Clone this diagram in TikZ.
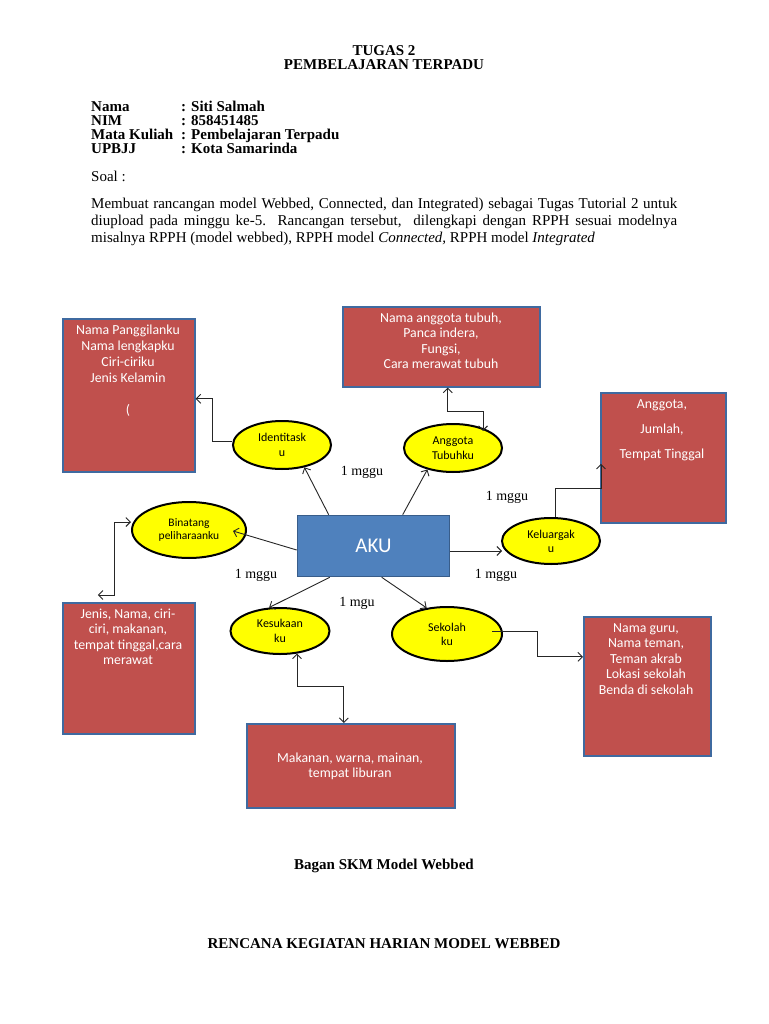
\documentclass[tikz,border=0pt]{standalone}
\usepackage{fontspec}
\setmainfont{Liberation Serif}
\newfontfamily\carl{Carlito}
\usetikzlibrary{shapes.geometric,arrows.meta,calc}
\definecolor{boxred}{HTML}{C0504D}
\definecolor{boxedge}{HTML}{3F6AA0}
\definecolor{akublue}{HTML}{4F81BD}
\definecolor{akuedge}{HTML}{385D8A}
\definecolor{ylw}{HTML}{FFFF00}
\begin{document}
\begin{tikzpicture}[x=1pt,y=-1pt,
  redbox/.style={draw=boxedge, line width=1.6pt, fill=boxred, inner sep=0pt, anchor=north west},
  boxtxt/.style={font=\carl\fontsize{13.8}{15.5}\selectfont, text=white, align=center, inner sep=0pt, anchor=base},
  oval/.style={ellipse, draw=black, line width=2pt, fill=ylw, inner sep=0pt, align=center},
  conn/.style={draw=black!85, line width=0.9pt},
  tip/.style={-{Straight Barb[length=4.5pt,width=9pt]}},
  both/.style={{Straight Barb[length=4.5pt,width=9pt]}-{Straight Barb[length=4.5pt,width=9pt]}},
  lbl/.style={font=\fontsize{14}{16}\selectfont, anchor=base, inner sep=0pt},
  doc/.style={font=\fontsize{15}{17}\selectfont, inner sep=0pt},
  docb/.style={font=\bfseries\fontsize{15}{17}\selectfont, inner sep=0pt},
]
\useasboundingbox (0,0) rectangle (768,1024);
\fill[white] (0,0) rectangle (768,1024);

% header
\node[docb, anchor=base] (t1) at (384,56) {TUGAS 2};
\node[docb, anchor=base] (t2) at (384,70) {PEMBELAJARAN TERPADU};
\node[docb, anchor=base west] (k1) at (91,112) {Nama};
\node[docb, anchor=base west] (v1) at (181,112) {: Siti Salmah};
\node[docb, anchor=base west] (k2) at (91,126) {NIM};
\node[docb, anchor=base west] (v2) at (181,126) {: 858451485};
\node[docb, anchor=base west] (k3) at (91,140) {Mata Kuliah};
\node[docb, anchor=base west] (v3) at (181,140) {: Pembelajaran Terpadu};
\node[docb, anchor=base west] (k4) at (91,154) {UPBJJ};
\node[docb, anchor=base west] (v4) at (181,154) {: Kota Samarinda};
\node[doc, anchor=base west] (soal) at (91,182) {Soal :};
\node[doc, anchor=base west, text width=586pt, align=justify] (para) at (91,209)
 {Membuat rancangan model Webbed, Connected, dan Integrated) sebagai Tugas Tutorial 2 untuk\linebreak
  diupload pada minggu ke-5. Rancangan tersebut,\ \ dilengkapi dengan RPPH sesuai modelnya\linebreak
  misalnya RPPH (model webbed), RPPH model \textit{Connected,} RPPH model \textit{Integrated}};

% central box
\node[draw=akuedge, line width=1.6pt, fill=akublue, minimum width=152, minimum height=61,
      inner sep=0pt, font=\carl\fontsize{21}{24}\selectfont, text=white] (aku) at (373.5,546) {AKU};

% ellipses
\node[oval, minimum width=98, minimum height=48, font=\carl\fontsize{12}{15}\selectfont] (iden) at (282,445) {Identitask\\u};
\node[oval, minimum width=98, minimum height=48, font=\carl\fontsize{12}{14.5}\selectfont] (tubuh) at (453,448) {Anggota\\Tubuhku};
\node[oval, minimum width=98, minimum height=46, font=\carl\fontsize{12}{14}\selectfont] (kel) at (551,541) {Keluargak\\u};
\node[oval, minimum width=114, minimum height=56, font=\carl\fontsize{11.5}{13.5}\selectfont] (bin) at (189,530) {Binatang\\peliharaanku};
\node[oval, minimum width=99, minimum height=46, font=\carl\fontsize{12}{15}\selectfont] (suka) at (280,631) {Kesukaan\\ku};
\node[oval, minimum width=110, minimum height=54, font=\carl\fontsize{12}{14}\selectfont] (sek) at (447,634) {Sekolah\\ku};

% red boxes
\node[redbox, minimum width=132, minimum height=153] (b1) at (62,318) {};
\node[boxtxt] (b1t) at (128,414) {Nama Panggilanku\\[0.5pt]Nama lengkapku\\[0.5pt]Ciri-ciriku\\[0.5pt]Jenis Kelamin\\[16.5pt](};
\node[redbox, minimum width=197, minimum height=80] (b2) at (342,306) {};
\node[boxtxt] (b2t) at (441,368.5) {Nama anggota tubuh,\\Panca indera,\\Fungsi,\\Cara merawat tubuh};
\node[redbox, minimum width=125, minimum height=130] (b3) at (600,392) {};
\node[boxtxt] (b3t) at (662,458) {Anggota,\\[9.5pt]Jumlah,\\[9.5pt]Tempat Tinggal};
\node[redbox, minimum width=132, minimum height=131] (b4) at (62,602) {};
\node[boxtxt] (b4t) at (128,664.5) {Jenis, Nama, ciri-\\ciri, makanan,\\tempat tinggal,cara\\merawat};
\node[redbox, minimum width=208, minimum height=84] (b5) at (246,723) {};
\node[boxtxt] (b5t) at (350,777.5) {Makanan, warna, mainan,\\tempat liburan};
\node[redbox, minimum width=127, minimum height=139] (b6) at (583,616) {};
\node[boxtxt] (b6t) at (646,694) {Nama guru,\\Nama teman,\\Teman akrab\\Lokasi sekolah\\Benda di sekolah};

% spokes
\draw[conn,tip] ($(aku.north west)+(32,0)$) -- (iden.-45);
\draw[conn,tip] ($(aku.north west)+(106,0)$) -- (tubuh.220);
\draw[conn,tip] ($(aku.west)+(0,4)$) -- ($(bin.east)+(-14,1)$);
\draw[conn,tip] ($(aku.east)+(0,5)$) -- ($(kel.west)+(1,10)$);
\draw[conn,tip] ($(aku.south west)+(33,0)$) -- (suka.115);
\draw[conn,tip] ($(aku.south west)+(85,0)$) -- (sek.128);

% elbows
\draw[conn,tip] ($(iden.west)+(0,-4)$) -- ++(-20,0) |- ($(b1.east)+(0,3.5)$);
\draw[conn,both] ($(b2.south)+(6.5,0)$) -- ++(0,24) -| ($(tubuh.center)+(30,-17)$);
\draw[conn,tip] ($(kel.north)+(4,0)$) -- ++(0,-29) -| ($(b3.west)+(1,6)$);
\draw[conn,both] ($(bin.west)+(0,-8)$) -- ++(-17,0) |- ($(b4.north)+(-31,-7)$);
\draw[conn,both] ($(suka.south)+(17,-1.5)$) -- ++(0,33) -| ($(b5.north)+(-7,0)$);
\draw[conn,tip] ($(sek.east)+(-11,-3)$) -- ++(45,0) |- ($(b6.west)+(0,-29.5)$);

% labels
\node[lbl] (l1) at (362,475) {1 mggu};
\node[lbl] (l2) at (507,500) {1 mggu};
\node[lbl] (l3) at (256,578) {1 mggu};
\node[lbl] (l4) at (496,578) {1 mggu};
\node[lbl] (l5) at (357,606) {1 mgu};

% footer
\node[docb, anchor=base] (cap) at (384,869) {Bagan SKM Model Webbed};
\node[docb, anchor=base] (rk) at (384,948) {RENCANA KEGIATAN HARIAN MODEL WEBBED};
\end{tikzpicture}
\end{document}
